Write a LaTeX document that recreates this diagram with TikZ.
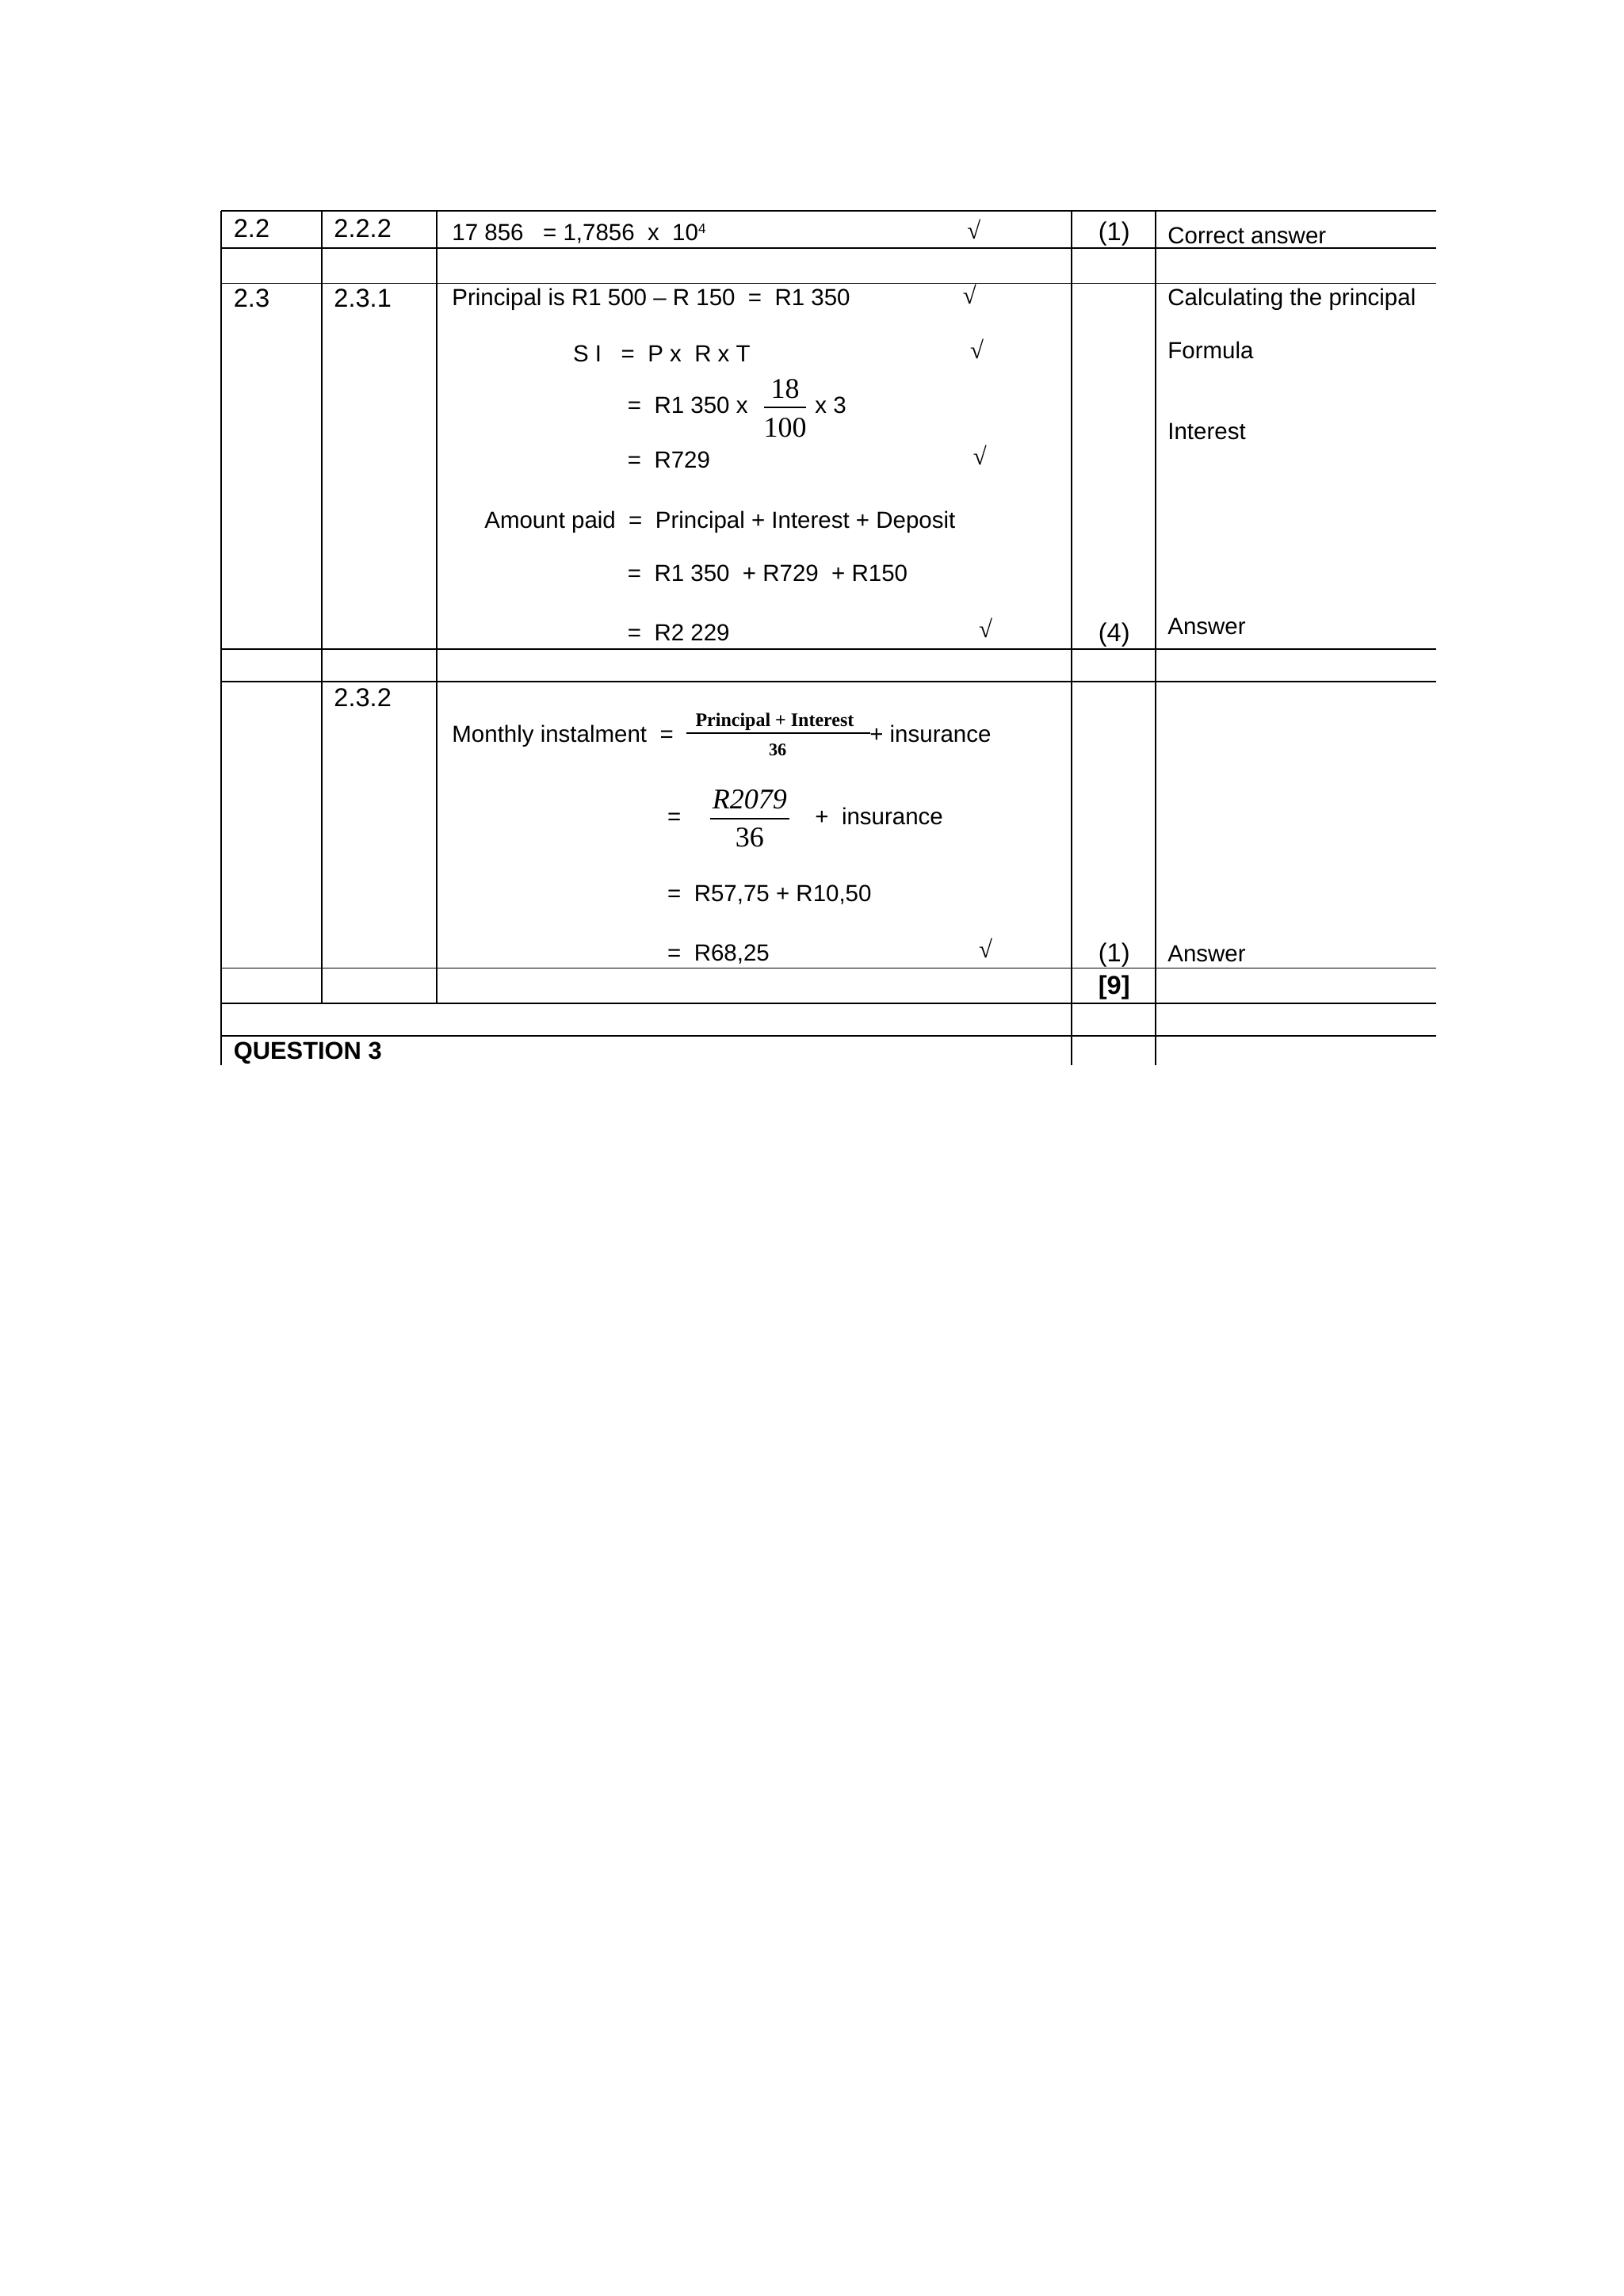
\documentclass[tikz,border=0pt]{standalone}
\usepackage{fontspec}
\setmainfont{Liberation Sans}
\newfontfamily\serf{Liberation Serif}
\begin{document}
\begin{tikzpicture}[x=0.01909cm,y=-0.01909cm,
  t/.style={anchor=base west,inner sep=0pt,font=\fontsize{8.6}{10}\selectfont},
  tb/.style={t,font=\fontsize{9.5}{11}\selectfont},
  ck/.style={anchor=base,inner sep=0pt,font=\fontsize{9}{10}\serf},
  ln/.style={line width=0.5pt}]
\useasboundingbox (0,0) rectangle (1100,1556);
% horizontal lines
\foreach \y in {143,168,192,440,462,656,680,702}
  \draw[ln] (150,\y) -- (973,\y);
\draw[ln] (150,143) -- (150,722);
\draw[ln] (218,143) -- (218,680);
\draw[ln] (296,143) -- (296,680);
\draw[ln] (726,143) -- (726,722);
\draw[ln] (783,143) -- (783,722);
% row 2.2
\node[tb] (a1) at (158,161) {2.2};
\node[tb] (a2) at (226,161) {2.2.2};
\node[t] (a3) at (306,163) {17 856 \ \ = 1,7856 \ x \ 10\raisebox{0.6ex}{\fontsize{5}{5}\selectfont 4}};
\node[ck] (a4) at (660,162) {√};
\node[tb] (a5) at (744,163) {(1)};
\node[t] (a6) at (791,165) {Correct answer};
% row 2.3.1
\node[tb] (b1) at (158,208) {2.3};
\node[tb] (b2) at (226,208) {2.3.1};
\node[t] (b3) at (306,207) {Principal is R1 500 – R 150 \ = \ R1 350};
\node[ck] (b4) at (657,206) {√};
\node[t] (b5) at (791,207) {Calculating the principal};
\node[t] (c1) at (388,245) {S I \ \ = \ P x \ R x T};
\node[ck] (c2) at (662,243) {√};
\node[t] (c3) at (791,243) {Formula};
\node[t] (d1) at (425,280) {= \ R1 350 x};
\node[anchor=base,inner sep=0pt,font=\fontsize{10.5}{12}\serf] (d2) at (532,270) {18};
\draw[ln] (518,276) -- (546,276);
\node[anchor=base,inner sep=0pt,font=\fontsize{10.5}{12}\serf] (d3) at (532,296) {100};
\node[t] (d4) at (552,280) {x 3};
\node[t] (d5) at (791,298) {Interest};
\node[t] (e1) at (425,317) {= \ R729};
\node[ck] (e2) at (664,315) {√};
\node[t] (f1) at (328,358) {Amount paid \ = \ Principal + Interest + Deposit};
\node[t] (g1) at (425,394) {= \ R1 350 \ + R729 \ + R150};
\node[t] (h1) at (425,434) {= \ R2 229};
\node[ck] (h2) at (668,432) {√};
\node[tb] (h3) at (744,435) {(4)};
\node[t] (h4) at (791,430) {Answer};
% row 2.3.2
\node[tb] (i1) at (226,479) {2.3.2};
\node[t] (i2) at (306,503) {Monthly instalment \ =};
\node[anchor=base,inner sep=0pt,font=\fontsize{7}{8}\serf\bfseries] (i3) at (525,492) {Principal + Interest};
\draw[ln] (465,497) -- (590,497);
\node[anchor=base,inner sep=0pt,font=\fontsize{6.5}{8}\serf\bfseries] (i4) at (527,512) {36};
\node[t] (i5) at (589,503) {+ insurance};
\node[t] (j1) at (452,559) {=};
\node[anchor=base,inner sep=0pt,font=\fontsize{10.5}{12}\serf\itshape] (j2) at (508,548) {R2079};
\draw[ln] (481,555) -- (535,555);
\node[anchor=base,inner sep=0pt,font=\fontsize{10.5}{12}\serf] (j3) at (508,574) {36};
\node[t] (j4) at (552,559) {+ \ insurance};
\node[t] (k1) at (452,611) {= \ R57,75 + R10,50};
\node[t] (l1) at (452,651) {= \ R68,25};
\node[ck] (l2) at (668,649) {√};
\node[tb] (l3) at (744,652) {(1)};
\node[t] (l4) at (791,652) {Answer};
\node[tb,font=\fontsize{9.5}{11}\selectfont\bfseries] (m1) at (744,674) {[9]};
\node[t,font=\fontsize{9}{11}\selectfont\bfseries] (n1) at (158,718) {QUESTION 3};
\end{tikzpicture}
\end{document}
